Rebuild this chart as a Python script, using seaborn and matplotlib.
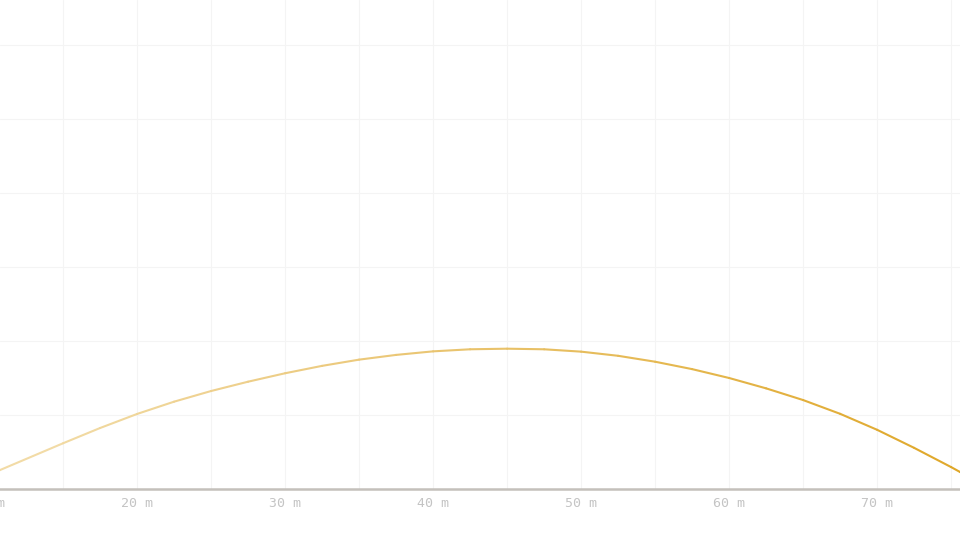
import numpy as np
import pandas as pd
import matplotlib
matplotlib.use('Agg')
import matplotlib.pyplot as plt
from matplotlib.colors import to_rgb
import seaborn as sns

# Trajectory: distance (m) and height (m)
distance_m = [10.0, 10.74, 15.0, 17.5, 20.0, 22.5, 25.0, 27.5, 30.0, 32.5, 35.0,
              37.5, 40.0, 42.5, 45.0, 47.5, 50.0, 52.5, 55.0, 57.5, 60.0,
              62.5, 65.0, 67.5, 70.0, 72.5, 75.0, 75.6, 76.0]
height_m = [0.95, 1.28, 3.09, 4.12, 5.07, 5.90, 6.62, 7.25, 7.82, 8.32, 8.74,
            9.06, 9.30, 9.44, 9.48, 9.44, 9.28, 9.00, 8.60, 8.10, 7.50,
            6.80, 6.01, 5.08, 4.00, 2.78, 1.48, 1.15, 0.92]
x_ticks = [10, 20, 30, 40, 50, 60, 70]
x_tick_labels = ['10 m', '20 m', '30 m', '40 m', '50 m', '60 m', '70 m']

sns.set_theme(style='white')
plt.rcParams['font.family'] = ['DejaVu Sans Mono', 'DejaVu Sans']

fig = plt.figure(figsize=(9.6, 5.4), dpi=100)
ax = fig.add_axes([0, 51 / 540, 1, 489 / 540])

# Gradient line: one short piece per pair of points, pale to gold
base = np.array(to_rgb('#dea523'))
n_seg = len(distance_m) - 1
rows = []
palette = []
for i in range(n_seg):
    t = i / (n_seg - 1)
    alpha = 0.38 + 0.62 * t
    palette.append(tuple(1 - (1 - base) * alpha))
    rows.append({'seg': i, 'x': distance_m[i], 'h': height_m[i]})
    rows.append({'seg': i, 'x': distance_m[i + 1], 'h': height_m[i + 1]})
df = pd.DataFrame(rows)

sns.lineplot(data=df, x='x', y='h', hue='seg', palette=palette, legend=False,
             sort=False, estimator=None, linewidth=1.5, ax=ax)

# Grid every 5 m, labels every 10 m
ax.set_xticks(x_ticks)
ax.set_xticklabels(x_tick_labels)
ax.set_xticks(np.arange(15, 80, 10), minor=True)
ax.set_yticks(np.arange(5, 35, 5))
ax.set_yticklabels([])
ax.set_xlim(10.74, 75.6)
ax.set_ylim(0, 33.04)
ax.grid(True, which='both', color='#f4f4f4', linewidth=0.8)
ax.set_axisbelow(True)
ax.tick_params(axis='x', which='both', length=0, pad=6, labelsize=9.5, labelcolor='#c4c4c4')
ax.tick_params(axis='y', length=0)
ax.set_xlabel('')
ax.set_ylabel('')

# Ticks outside the view are dropped by matplotlib; the first label is cut by the edge
for tick, label in zip(x_ticks, x_tick_labels):
    if tick < ax.get_xlim()[0]:
        ax.annotate(label, xy=(tick, 0), xycoords=('data', 'axes fraction'),
                    xytext=(0, -6), textcoords='offset points', ha='center', va='top',
                    fontsize=9.5, color='#c4c4c4', annotation_clip=False)

for side in ['top', 'left', 'right']:
    ax.spines[side].set_visible(False)
ax.spines['bottom'].set_color('#c4c0bb')
ax.spines['bottom'].set_linewidth(1.8)
ax.spines['bottom'].set_zorder(5)

fig.savefig('out.png', dpi=100)
